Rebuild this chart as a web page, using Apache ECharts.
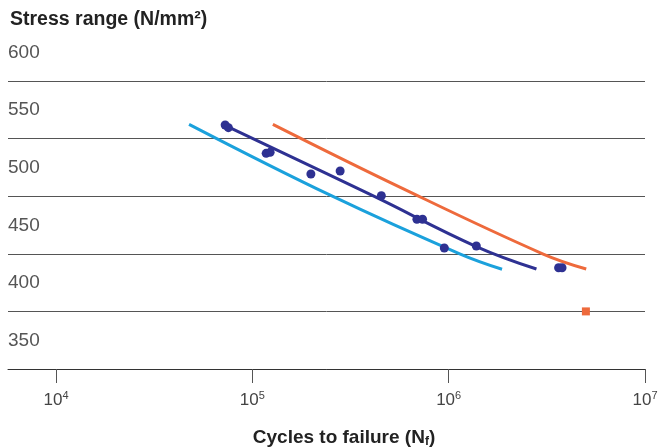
<!DOCTYPE html>
<html>
<head>
<meta charset="utf-8">
<script src="https://cdn.jsdelivr.net/npm/echarts@6/dist/echarts.min.js"></script>
<style>
html, body {margin: 0; padding: 0; background: #fff;}
#chart {width: 659px; height: 448px;}
</style>
</head>
<body>
<div id="chart"></div>
<script>
// values (cycles, stress range N/mm2)
const decadeTicks = [1e4, 1e5, 1e6, 1e7];

const lowerCycles = [4.76e4, 2.54e5, 1.146e6, 1.87e6];
const lowerStress = [562.4, 500.2, 449.8, 436.6];

const meanCycles = [7.53e4, 4.13e5, 1.383e6, 2.80e6];
const meanStress = [560.1, 500.2, 456.3, 436.8];

const upperCycles = [1.272e5, 5.67e5, 3.03e6, 5.02e6];
const upperStress = [562.4, 507.7, 449.8, 436.8];

const testCycles = [7.27e4, 7.55e4, 1.176e5, 1.232e5, 1.987e5, 2.80e5, 4.54e5,
    6.89e5, 7.36e5, 9.50e5, 1.383e6, 3.63e6, 3.78e6];
const testStress = [561.8, 559.5, 537.2, 538.1, 519.3, 521.9, 500.4,
    480.0, 480.0, 455.0, 456.8, 437.9, 437.9];

const runoutCycles = [5.0e6];
const runoutStress = [400];

const orange = '#ee6a3c';
const lightBlue = '#1ba1dc';
const darkBlue = '#2e3192';
const font = '"Liberation Sans", Arial, Helvetica, sans-serif';

const zip = (xs, ys) => xs.map((x, i) => [x, ys[i]]);

const chart = echarts.init(document.getElementById('chart'), null, {renderer: 'canvas'});

function lineSeries(xs, ys, color) {
    return {
        type: 'line',
        data: zip(xs, ys),
        smooth: 0.4,
        showSymbol: false,
        symbol: 'none',
        lineStyle: {color, width: 3},
        z: 2,
        silent: true,
    };
}

chart.setOption({
    animation: false,
    title: {
        text: 'Stress range (N/mm²)',
        left: 5,
        top: 5,
        textStyle: {fontFamily: font, fontSize: 19.5, fontWeight: 'bold', color: '#222'},
    },
    grid: {left: 8, right: 14, top: 81, bottom: 79, containLabel: false, outerBoundsMode: 'none'},
    xAxis: {
        type: 'log',
        logBase: 10,
        min: Math.pow(10, 3.7554),
        max: 1e7,
        splitLine: {show: false},
        axisLine: {show: true, lineStyle: {color: '#333', width: 1}},
        axisTick: {
            show: true,
            inside: false,
            length: 14,
            customValues: decadeTicks,
            lineStyle: {color: '#555', width: 1},
        },
        axisLabel: {
            customValues: decadeTicks,
            margin: 21,
            fontFamily: font,
            fontSize: 17,
            color: '#444',
            formatter: v => '10{sup|' + Math.round(Math.log10(v)) + '}',
            rich: {
                sup: {fontFamily: font, fontSize: 11, color: '#444', verticalAlign: 'bottom', padding: [0, 0, 9, 0]},
            },
        },
        name: 'Cycles to failure (N{sub|f})',
        nameLocation: 'middle',
        nameGap: 58,
        nameTextStyle: {
            fontFamily: font,
            fontSize: 19,
            fontWeight: 'bold',
            color: '#222',
            padding: [0, 0, 0, 35],
            rich: {
                sub: {fontFamily: font, fontSize: 12, fontWeight: 'bold', color: '#222', verticalAlign: 'top', padding: [9, 0, 0, 0]},
            },
        },
    },
    yAxis: {
        type: 'value',
        min: 350,
        max: 600,
        interval: 50,
        axisLine: {show: false},
        axisTick: {show: false},
        splitLine: {show: true, lineStyle: {color: '#555', width: 1}},
        axisLabel: {
            inside: true,
            margin: 0,
            fontFamily: font,
            fontSize: 19,
            color: '#555',
            verticalAlign: 'bottom',
            padding: [0, 0, 19, 0],
        },
    },
    series: [
        lineSeries(lowerCycles, lowerStress, lightBlue),
        lineSeries(meanCycles, meanStress, darkBlue),
        lineSeries(upperCycles, upperStress, orange),
        {
            type: 'scatter',
            data: zip(testCycles, testStress),
            symbol: 'circle',
            symbolSize: 9,
            itemStyle: {color: darkBlue, opacity: 1},
            z: 3,
        },
        {
            type: 'scatter',
            data: zip(runoutCycles, runoutStress),
            symbol: 'rect',
            symbolSize: 8,
            itemStyle: {color: orange, opacity: 1},
            z: 3,
        },
    ],
});
</script>
</body>
</html>
